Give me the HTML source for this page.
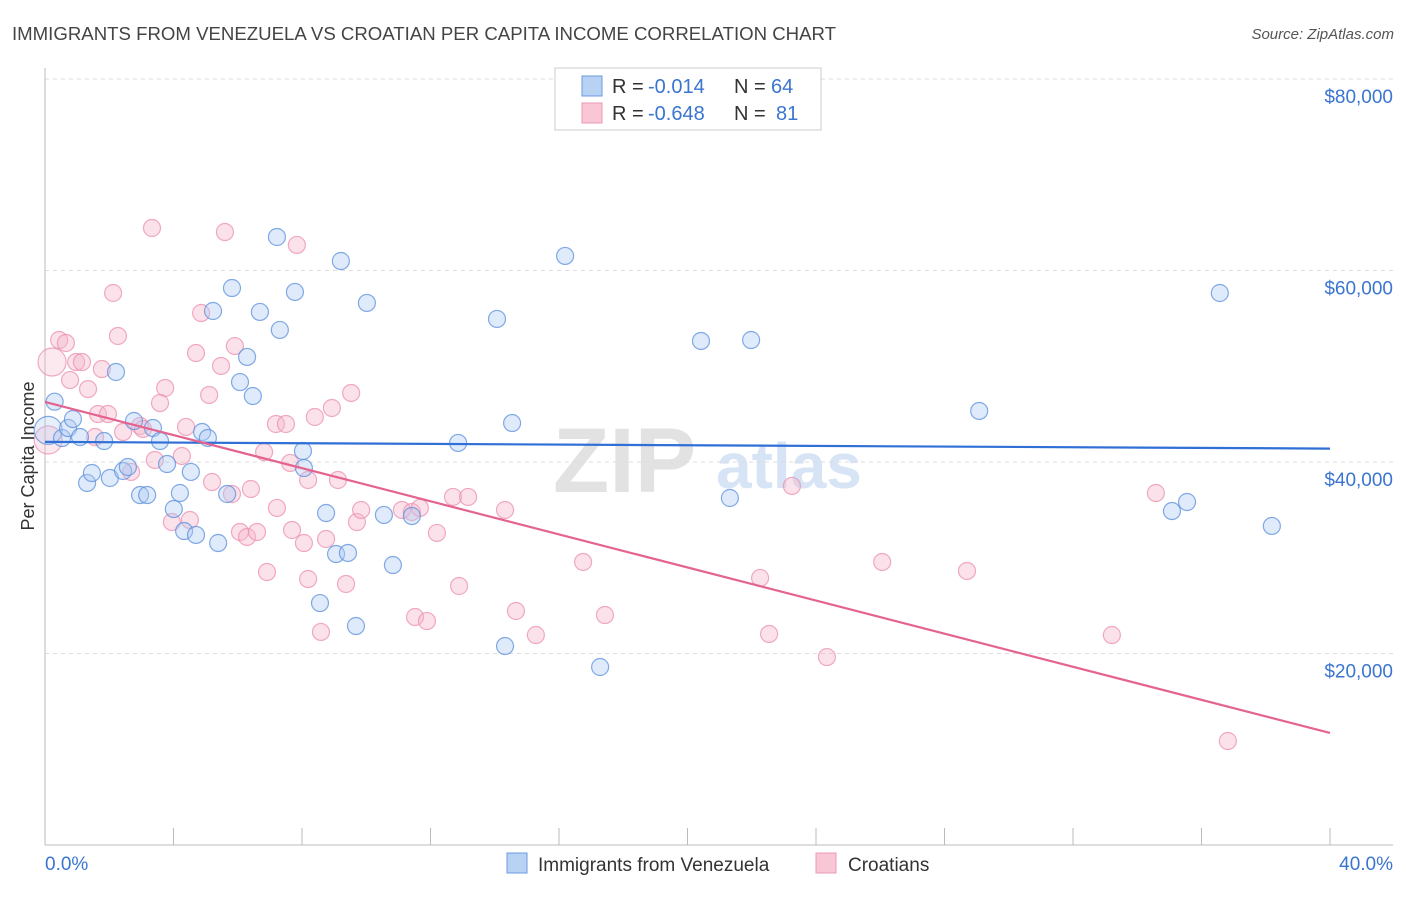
<!DOCTYPE html>
<html><head><meta charset="utf-8">
<style>
body{margin:0;background:#fff;font-family:"Liberation Sans",sans-serif;}
svg text{font-family:"Liberation Sans",sans-serif;}
</style></head>
<body>
<svg id="chart" width="1406" height="892" xmlns="http://www.w3.org/2000/svg">
<text x="12" y="40" font-size="18.3" fill="#444" textLength="824" lengthAdjust="spacingAndGlyphs">IMMIGRANTS FROM VENEZUELA VS CROATIAN PER CAPITA INCOME CORRELATION CHART</text>
<text x="1394" y="39" font-size="15" fill="#555" font-style="italic" text-anchor="end">Source: ZipAtlas.com</text>
<g>
<text x="553" y="492" font-size="92" fill="#e2e2e2" font-family="Liberation Serif, serif" font-weight="bold">ZIP</text>
<text x="716" y="488" font-size="64" fill="#d6e4f6" font-weight="bold">atlas</text>
</g>
<g id="grid"></g>
<g id="axes"></g>
<g id="marks"></g>
<text transform="translate(34,456) rotate(-90)" font-size="18" fill="#333" text-anchor="middle">Per Capita Income</text>
<g>
<rect x="555" y="68" width="266" height="62" fill="#fff" stroke="#ccc"/>
<rect x="582" y="76" width="20" height="20" fill="#b8d2f4" stroke="#6b9be0"/>
<rect x="582" y="103" width="20" height="20" fill="#f8c6d4" stroke="#eb9ab4"/>
<text x="612" y="93" font-size="20" fill="#333">R =</text>
<text x="648" y="93" font-size="20" fill="#3a75d0">-0.014</text>
<text x="734" y="93" font-size="20" fill="#333">N =</text>
<text x="771" y="93" font-size="20" fill="#3a75d0">64</text>
<text x="612" y="120" font-size="20" fill="#333">R =</text>
<text x="648" y="120" font-size="20" fill="#3a75d0">-0.648</text>
<text x="734" y="120" font-size="20" fill="#333">N =</text>
<text x="776" y="120" font-size="20" fill="#3a75d0">81</text>
</g>
<g>
<rect x="507" y="853" width="20" height="20" fill="#b8d2f4" stroke="#6b9be0"/>
<text x="538" y="871" font-size="19" fill="#333">Immigrants from Venezuela</text>
<rect x="816" y="853" width="20" height="20" fill="#f8c6d4" stroke="#eb9ab4"/>
<text x="848" y="871" font-size="19" fill="#333">Croatians</text>
</g>
</svg>
<script>
const yTicks=[20000,40000,60000,80000];
const yTickLabels=["$20,000","$40,000","$60,000","$80,000"];
const xTicks=[0,4,8,12,16,20,24,28,32,36,40];
const blueX=[0.1,0.3,0.53,0.72,0.87,1.09,1.31,1.46,1.84,2.02,2.21,2.43,2.58,2.77,2.96,3.18,3.36,3.58,3.8,4.01,4.2,4.33,4.54,4.7,4.89,5.07,5.23,5.39,5.67,5.82,6.07,6.29,6.47,6.69,7.22,7.31,7.78,8.03,8.06,8.75,8.56,9.06,9.21,9.43,9.68,10.02,10.55,10.83,11.42,12.86,14.07,14.32,14.54,16.19,17.28,20.42,21.32,21.98,29.08,35.08,35.55,36.57,38.19];
const blueY=[43300,46300,42500,43550,44490,42610,37810,38850,42190,38330,49400,39060,39480,44280,36550,36550,43550,42190,39790,35090,36760,32790,38960,32380,43130,42510,55770,31540,36660,58170,48350,50970,46890,55670,63500,53790,57760,41150,39370,34670,25270,30390,60990,30500,22870,56610,34470,29240,34360,41990,54940,20780,44070,61520,18590,52640,36240,52740,45330,34880,35820,57650,33320];
const pinkX=[3.33,5.6,7.84,2.12,4.86,2.27,0.44,0.65,0.22,0.97,1.15,1.77,0.78,4.7,5.48,5.91,3.74,1.34,3.58,5.11,9.53,1.65,1.96,2.43,2.96,4.39,7.19,7.5,8.93,8.4,3.05,0.1,1.56,2.68,3.42,4.26,5.2,4.51,3.95,5.82,6.41,6.82,7.63,8.19,9.12,7.22,6.07,6.29,6.6,7.69,8.06,8.75,9.71,9.84,11.11,11.42,11.67,12.2,12.7,13.17,14.32,6.91,8.19,9.37,12.89,8.59,11.52,11.89,14.66,15.28,16.75,17.43,22.26,22.54,23.25,24.34,26.06,28.7,33.21,34.58,36.82];
const pinkY=[64440,64020,62670,57650,55560,53160,52740,52430,50440,50440,50440,49710,48560,51380,50030,52110,47730,47620,46160,47000,47210,45010,45010,43130,43760,43660,43970,43970,45640,44700,43450,42300,42610,38960,40210,40630,37910,33940,33730,36660,37180,41040,39900,38120,38120,35200,32690,32170,32690,32900,31540,31960,33730,34990,34990,34780,35200,32590,36350,36350,34990,28510,27780,27260,27050,22250,23810,23390,24440,21930,29560,24020,27890,22040,37500,19630,29560,28620,21930,36760,10860];
const blueTrend=[42100,41400];
const pinkTrend=[46270,11700];
const NS="http://www.w3.org/2000/svg";
function sx(v){return 45+v/40*1285;}
function sy(v){return 845-v/20000*191.5;}
function mk(tag,attrs,parent){const e=document.createElementNS(NS,tag);for(const k in attrs)e.setAttribute(k,attrs[k]);parent.appendChild(e);return e;}
const grid=document.getElementById('grid'),axes=document.getElementById('axes'),marks=document.getElementById('marks');
yTicks.forEach((t,i)=>{
 const l=mk('line',{x1:45,x2:1393,y1:sy(t),y2:sy(t),stroke:'#ddd','stroke-dasharray':'4,4'},grid);
 
 
 const tx=mk('text',{x:1393,y:sy(t)+24,'font-size':19,fill:'#3a75d0','text-anchor':'end'},axes);
 tx.textContent=yTickLabels[i];
 
 
});
let a=mk('line',{x1:45,x2:45,y1:68,y2:845,stroke:'#bbb'},axes);


a=mk('line',{x1:45,x2:1393,y1:845,y2:845,stroke:'#bbb'},axes);


xTicks.forEach(t=>{
 const l=mk('line',{x1:sx(t),x2:sx(t),y1:828,y2:845,stroke:'#bbb'},axes);
 
 
});
let xl=mk('text',{x:45,y:870,'font-size':19,fill:'#3a75d0'},axes);xl.textContent='0.0%';


xl=mk('text',{x:1393,y:870,'font-size':19,fill:'#3a75d0','text-anchor':'end'},axes);xl.textContent='40.0%';


function pts(X,Y,fill,stroke,name){
 X.forEach((x,i)=>{
  const big=x<0.25;
  const c=mk('circle',{cx:sx(x),cy:sy(Y[i]),r:big?14:8.5,fill:fill,'fill-opacity':big?0.3:0.4,stroke:stroke,'stroke-opacity':0.75,'stroke-width':1.2},marks);
  
  
 });
}
pts(pinkX,pinkY,'#f6b7ca','#eb8fb0','croatians-point');
pts(blueX,blueY,'#aecbf2','#5a8fdc','venezuela-point');
let tl=mk('line',{x1:sx(0),x2:sx(40),y1:sy(blueTrend[0]),y2:sy(blueTrend[1]),stroke:'#2f6fd6','stroke-width':2.2},marks);


tl=mk('line',{x1:sx(0),x2:sx(40),y1:sy(pinkTrend[0]),y2:sy(pinkTrend[1]),stroke:'#e4648f','stroke-width':2.2},marks);


</script>
</body></html>
